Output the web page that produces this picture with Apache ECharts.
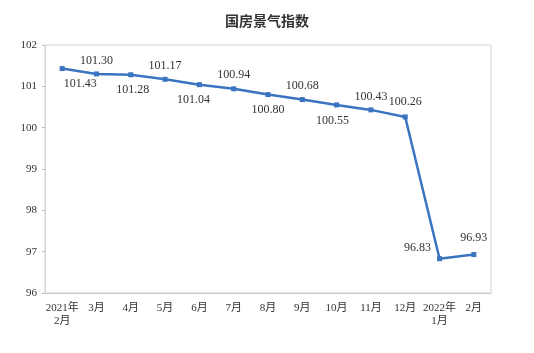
<!DOCTYPE html>
<html><head><meta charset="utf-8">
<script src="https://cdn.jsdelivr.net/npm/echarts@6/dist/echarts.min.js"></script>
<style>html,body{margin:0;padding:0;background:#fff}#c{width:534px;height:353px}</style>
</head><body><div id="c"></div>
<script>
var categories = ['2021年\n2月','3月','4月','5月','6月','7月','8月','9月','10月','11月','12月','2022年\n1月','2月'];
var values = [101.43,101.30,101.28,101.17,101.04,100.94,100.80,100.68,100.55,100.43,100.26,96.83,96.93];
var yTicks = [96,97,98,99,100,101,102];

var labelStyles = [
  {position:'bottom', offset:[18,2]},
  {position:'top', offset:[0,0]},
  {position:'bottom', offset:[2,2]},
  {position:'top', offset:[0,0]},
  {position:'bottom', offset:[-6,2]},
  {position:'top', offset:[0,0]},
  {position:'bottom', offset:[0,2]},
  {position:'top', offset:[0,0]},
  {position:'bottom', offset:[-4,2]},
  {position:'top', offset:[0,0]},
  {position:'top', offset:[0,-2]},
  {position:'top', offset:[-22,3]},
  {position:'top', offset:[0,-3]}
];
var seriesData = values.map(function(v,i){
  return {value:v, label:labelStyles[i]};
});
var chart = echarts.init(document.getElementById('c'));
chart.setOption({
  animation:false,
  backgroundColor:'#fff',
  title:{text:'国房景气指数', left:'center', top:9,
    textStyle:{fontFamily:'Noto Sans CJK SC', fontSize:14, fontWeight:'bold', color:'#333'}},
  grid:{left:45, right:43, top:45, bottom:60, show:true, borderColor:'#d4d4d4', borderWidth:1},
  xAxis:{type:'category', data:categories, boundaryGap:true,
    axisLine:{lineStyle:{color:'#c8c8c8'}},
    axisTick:{inside:true, length:5, lineStyle:{color:'#999'}},
    axisLabel:{interval:0, fontFamily:'Liberation Serif, Noto Sans CJK SC', fontSize:11, color:'#333', lineHeight:13, margin:9}},
  yAxis:{type:'value', min:yTicks[0], max:yTicks[yTicks.length-1], interval:1,
    splitLine:{show:false},
    axisLine:{show:true, lineStyle:{color:'#d4d4d4'}},
    axisTick:{show:true, length:3, lineStyle:{color:'#bbb'}},
    axisLabel:{fontFamily:'Liberation Serif', fontSize:11, color:'#333', margin:8}},
  series:[{type:'line', data:seriesData, symbol:'rect', symbolSize:5,
    lineStyle:{color:'#3a73bf', width:2.5}, itemStyle:{color:'#3a73bf'},
    label:{show:true, fontFamily:'Liberation Serif', fontSize:12, color:'#333',
      formatter:function(p){return p.value.toFixed(2);}}}]
});
</script></body></html>
